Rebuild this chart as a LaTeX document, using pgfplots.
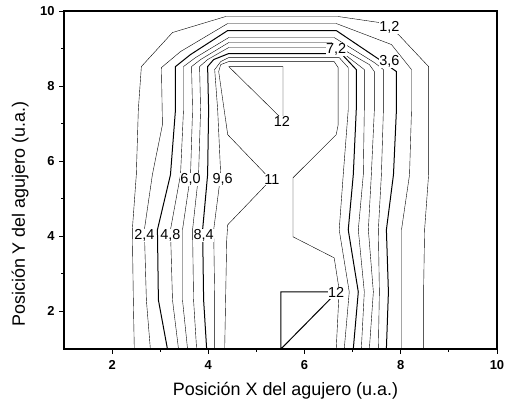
\documentclass[border=0pt]{standalone}
\usepackage{fontspec}
\setmainfont{Liberation Sans}
\usepackage{pgfplots}
\pgfplotsset{compat=1.18}
\begin{document}
\begin{tikzpicture}
\begin{axis}[
  scale only axis, width=433bp, height=338bp,
  xmin=1, xmax=10, ymin=1, ymax=10,
  xtick={2,4,6,8,10}, ytick={2,4,6,8,10},
  minor tick num=1,
  tick align=outside, xtick pos=bottom, ytick pos=left,
  major tick length=5bp, minor tick length=3bp,
  axis line style={line width=1.1bp},
  tick style={line width=0.9bp, black},
  /pgf/number format/assume math mode=true,
  tick label style={font=\fontsize{13}{15}\selectfont\bfseries},
  xticklabel style={yshift=-3bp},
  yticklabel style={xshift=-1bp},
  xlabel={Posición X del agujero (u.a.)},
  ylabel={Posición Y del agujero (u.a.)},
  xlabel style={at={(axis description cs:0.5115,-0.1243)}, anchor=center},
  ylabel style={at={(axis description cs:-0.1016,0.399)}, anchor=center},
  label style={font=\fontsize{18}{21}\selectfont},
  cycle list={{black, solid, line width=1bp, mark=none}},
]
% 1.2
\addplot coordinates {(2.461,1)(2.441,2.307)(2.420,4.173)(2.503,5.640)(2.545,7.373)(2.608,8.520)(3.255,9.427)(4.361,9.853)(6.699,9.853)(7.555,9.693)(7.952,9.373)(8.578,8.520)(8.578,5.640)(8.495,4.173)(8.474,2.520)(8.474,1)};
% 2.4
\addplot coordinates {(2.795,1)(2.712,2.307)(2.670,4.173)(2.837,5.640)(3.046,6.973)(3.025,8.493)(3.422,8.920)(4.403,9.667)(6.658,9.667)(7.806,9.107)(8.223,8.440)(8.223,7.373)(8.182,5.640)(8.015,4.173)(8.015,2.520)(8.015,1)};
% 3.6
\addplot coordinates {(3.150,1)(2.962,2.307)(2.942,4.173)(3.213,5.640)(3.317,7.373)(3.317,8.520)(3.630,8.840)(4.403,9.480)(6.658,9.480)(7.555,8.707)(7.910,8.387)(7.910,7.373)(7.848,5.640)(7.701,4.173)(7.743,2.520)(7.701,1)};
% 4.8
\addplot coordinates {(3.380,1)(3.255,2.307)(3.213,4.173)(3.422,5.640)(3.484,7.373)(3.484,8.520)(3.735,8.760)(4.424,9.293)(6.616,9.293)(7.451,8.627)(7.639,8.440)(7.639,7.373)(7.597,5.640)(7.534,4.173)(7.555,2.520)(7.534,1)};
% 6.0
\addplot coordinates {(3.568,1)(3.463,2.307)(3.463,4.173)(3.630,5.640)(3.672,7.373)(3.651,8.520)(3.839,8.707)(4.424,9.160)(6.553,9.160)(7.347,8.573)(7.451,8.387)(7.451,7.373)(7.388,5.640)(7.326,4.173)(7.430,2.520)(7.347,1)};
% 7.2
\addplot coordinates {(3.756,1)(3.693,2.307)(3.672,4.173)(3.797,5.640)(3.839,7.373)(3.818,8.520)(3.985,8.707)(4.424,9.027)(6.449,9.027)(6.866,8.813)(7.242,8.440)(7.242,7.373)(7.221,5.640)(7.117,4.173)(7.242,2.520)(7.180,1)};
% 8.4
\addplot coordinates {(3.965,1)(3.902,2.307)(3.881,4.173)(3.985,5.640)(4.006,7.373)(3.985,8.520)(4.111,8.707)(4.424,8.867)(6.762,8.867)(7.075,8.440)(7.075,7.373)(7.013,5.640)(6.908,4.173)(7.117,2.520)(7.013,1)};
% 9.6
\addplot coordinates {(4.132,1)(4.132,2.307)(4.111,4.173)(4.257,5.640)(4.194,7.373)(4.132,8.440)(4.257,8.653)(4.424,8.760)(6.720,8.760)(6.908,8.493)(6.908,7.373)(6.804,5.640)(6.720,4.173)(6.929,2.520)(6.825,1)};
% 10.8
\addplot coordinates {(4.340,1)(4.382,3.907)(4.403,4.307)(5.301,5.507)(4.403,6.707)(4.215,8.387)(4.257,8.573)(4.424,8.653)(6.616,8.653)(6.699,8.493)(6.699,6.973)(6.658,6.707)(5.760,5.560)(5.760,3.987)(6.616,3.427)(6.720,2.573)(6.658,1)};
% 12 (upper)
\addplot coordinates {(4.424,8.520)(5.551,8.520)(5.551,7.10)(4.424,8.520)};
% 12 (lower)
\addplot coordinates {(5.509,1)(5.509,2.520)(6.678,2.520)(5.509,1)};
% labels
\begin{scope}[every node/.style={fill=white, inner sep=0.6pt, font=\fontsize{14.5}{16}\selectfont}]
\node at (axis cs:7.764,9.56) {1,2};
\node at (axis cs:7.764,8.653) {3,6};
\node at (axis cs:6.658,8.973) {7,2};
\node at (axis cs:2.670,4.013) {2,4};
\node at (axis cs:3.213,4.013) {4,8};
\node at (axis cs:3.902,4.013) {8,4};
\node at (axis cs:3.630,5.507) {6,0};
\node at (axis cs:4.299,5.507) {9,6};
\node at (axis cs:5.322,5.507) {11};
\node at (axis cs:5.530,7.053) {12};
\node at (axis cs:6.658,2.493) {12};
\end{scope}
\end{axis}
\pgfresetboundingbox
\path[use as bounding box] ([shift={(-64bp,-56bp)}]current axis.south west) rectangle ([shift={(8bp,11bp)}]current axis.north east);
\end{tikzpicture}
\end{document}
